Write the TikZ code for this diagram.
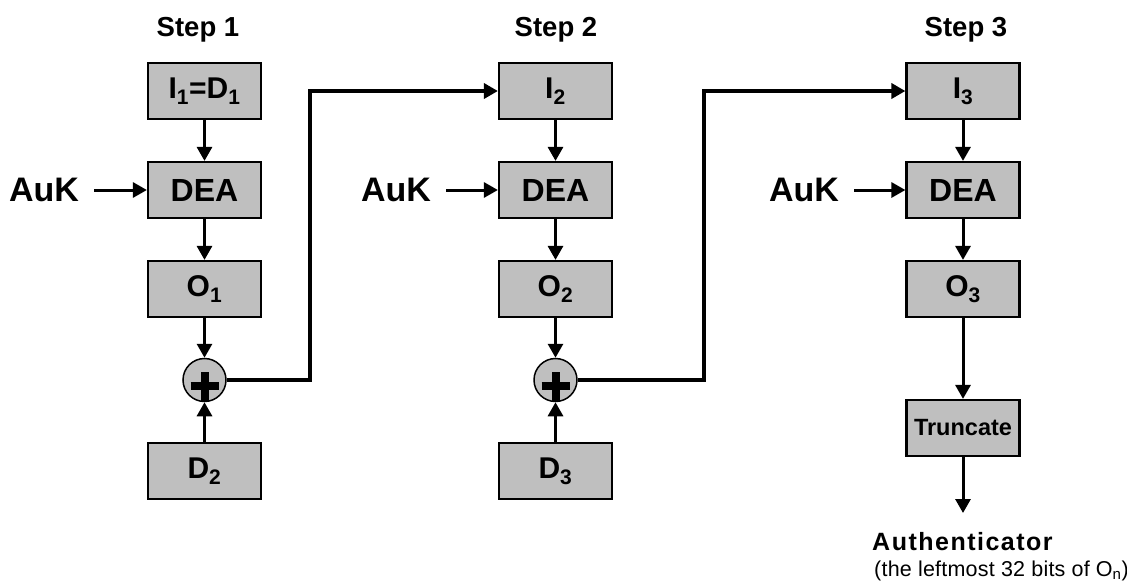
\documentclass[tikz,border=0pt]{standalone}
\usepackage{fontspec}
\setmainfont{Liberation Sans}
\usepackage{tikz}
\usetikzlibrary{arrows.meta}
\usetikzlibrary{positioning}

\tikzset{
  blk/.style={draw=black,line width=2.2pt,fill=black!25,minimum width=113pt,minimum height=56pt,inner sep=0pt,font=\fontsize{30}{32}\selectfont\bfseries},
  deabox/.style={blk,font=\fontsize{32}{34}\selectfont\bfseries},
  xorc/.style={circle,draw=black,line width=1.5pt,fill=black!25,minimum size=43pt,inner sep=0pt,
    path picture={
      \draw[line width=8.5pt] ([xshift=-14pt,yshift=-6pt]path picture bounding box.center) -- ([xshift=14pt,yshift=-6pt]path picture bounding box.center);
      \draw[line width=8pt] ([yshift=8pt]path picture bounding box.center) -- ([yshift=-21pt]path picture bounding box.center);
    }},
  flow/.style={draw=black,line width=3pt,-{Triangle[length=14pt,width=15pt]}},
  feed/.style={draw=black,line width=3.5pt,-{Triangle[length=14pt,width=15pt]}},
}

\begin{document}
\begin{tikzpicture}[x=1pt,y=-1pt]
  \useasboundingbox (0,0) rectangle (1127,587);
  % step titles
  \begin{scope}[every node/.style={anchor=base,font=\fontsize{27.5}{29}\selectfont\bfseries}]
    \node (s1) at (198,36) {Step 1};
    \node (s2) at (556,36) {Step 2};
    \node (s3) at (966,36) {Step 3};
  \end{scope}
  % key inputs
  \begin{scope}[every node/.style={inner xsep=15pt,font=\fontsize{34}{36}\selectfont\bfseries}]
    \node (auk1) at (44,190) {AuK};
    \node (auk2) at (396,190) {AuK};
    \node (auk3) at (804,190) {AuK};
  \end{scope}
  % step 1
  \node[blk] (i1) at (204.5,91) {I\textsubscript{1}=D\textsubscript{1}};
  \node[deabox] (dea1) at (204.5,190) {DEA};
  \node[blk] (o1) at (204.5,289) {O\textsubscript{1}};
  \node[xorc] (x1) at (204.5,380) {};
  \node[blk] (d2) at (204.5,471) {D\textsubscript{2}};
  \coordinate (bend1) at (310,200);
  % step 2
  \node[blk] (i2) at (555.5,91) {I\textsubscript{2}};
  \node[deabox] (dea2) at (555.5,190) {DEA};
  \node[blk] (o2) at (555.5,289) {O\textsubscript{2}};
  \node[xorc] (x2) at (555.5,380) {};
  \node[blk] (d3) at (555.5,471) {D\textsubscript{3}};
  \coordinate (bend2) at (704,200);
  % step 3
  \node[blk] (i3) at (963,91) {I\textsubscript{3}};
  \node[deabox] (dea3) at (963,190) {DEA};
  \node[blk] (o3) at (963,289) {O\textsubscript{3}};
  \node[blk,font=\fontsize{23.5}{25}\selectfont\bfseries] (trunc) at (963,428) {Truncate};
  \coordinate (out) at (963,513);
  \node[anchor=base west,inner sep=0pt,font=\fontsize{25}{27}\selectfont\bfseries\addfontfeature{LetterSpace=6}] (auth) at (872,550) {Authenticator};
  \node[anchor=base west,inner sep=0pt,font=\fontsize{21.5}{23}\selectfont\addfontfeature{LetterSpace=1}] (authnote) at (874,576) {(the leftmost 32 bits of O\textsubscript{n})};

  \path[flow] (i1) edge (dea1) (dea1) edge (o1) (o1) edge (x1) (d2) edge (x1) (auk1) edge (dea1);
  \path[flow] (i2) edge (dea2) (dea2) edge (o2) (o2) edge (x2) (d3) edge (x2) (auk2) edge (dea2);
  \path[flow] (i3) edge (dea3) (dea3) edge (o3) (o3) edge (trunc) (trunc) edge (out) (auk3) edge (dea3);
  \draw[feed] (x1.east) -| (bend1) |- (i2.west);
  \draw[feed] (x2.east) -| (bend2) |- (i3.west);
\end{tikzpicture}
\end{document}
